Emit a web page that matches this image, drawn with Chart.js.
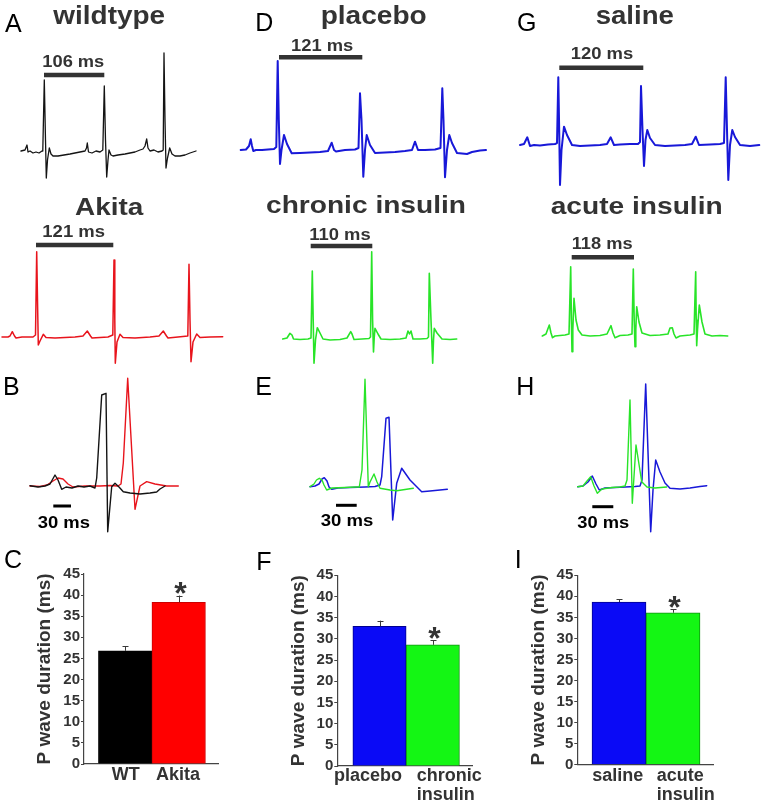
<!DOCTYPE html>
<html>
<head>
<meta charset="utf-8">
<script src="https://cdn.jsdelivr.net/npm/chart.js@4.4.1/dist/chart.umd.min.js"></script>
<style>
html,body{margin:0;padding:0;background:#fff;}
#wrap{position:relative;width:763px;height:806px;overflow:hidden;background:#fff;}
#wrap canvas{position:absolute;}
#labels{position:absolute;left:0;top:0;z-index:5;pointer-events:none;}
#labels text{font-family:'Liberation Sans',Arial,Helvetica,sans-serif;}
.ttl{font-weight:bold;fill:#333;}
.sc{font-weight:bold;fill:#333;font-size:16.5px;}
.sc30{font-weight:bold;fill:#000;font-size:16.5px;}
.let{fill:#000;font-size:25px;}
</style>
</head>
<body>
<div id="wrap">
<svg id="labels" width="763" height="806" xmlns="http://www.w3.org/2000/svg">
  <text class="let" x="5" y="31.7">A</text>
  <text class="let" x="255.3" y="30.7">D</text>
  <text class="let" x="517" y="30.7">G</text>
  <text class="let" x="3" y="395">B</text>
  <text class="let" x="255.3" y="395">E</text>
  <text class="let" x="516.3" y="395">H</text>
  <text class="let" x="4" y="568">C</text>
  <text class="let" x="256.3" y="570">F</text>
  <text class="let" x="514.7" y="568">I</text>

  <text class="ttl" font-size="25" x="109.2" y="23.5" text-anchor="middle" textLength="111.7" lengthAdjust="spacingAndGlyphs">wildtype</text>
  <text class="ttl" font-size="25" x="373.7" y="24" text-anchor="middle" textLength="106" lengthAdjust="spacingAndGlyphs">placebo</text>
  <text class="ttl" font-size="25" x="634.8" y="24" text-anchor="middle" textLength="78.3" lengthAdjust="spacingAndGlyphs">saline</text>
  <text class="ttl" font-size="23.5" x="109.2" y="215" text-anchor="middle" textLength="68.3" lengthAdjust="spacingAndGlyphs">Akita</text>
  <text class="ttl" font-size="23.5" x="366" y="213.3" text-anchor="middle" textLength="200" lengthAdjust="spacingAndGlyphs">chronic insulin</text>
  <text class="ttl" font-size="23.5" x="636.7" y="214.3" text-anchor="middle" textLength="172" lengthAdjust="spacingAndGlyphs">acute insulin</text>

  <text class="sc" x="73.3" y="66.7" text-anchor="middle" textLength="62" lengthAdjust="spacingAndGlyphs">106 ms</text>
  <text class="sc" x="73.7" y="237.3" text-anchor="middle" textLength="62.7" lengthAdjust="spacingAndGlyphs">121 ms</text>
  <text class="sc" x="322.2" y="51" text-anchor="middle" textLength="62.3" lengthAdjust="spacingAndGlyphs">121 ms</text>
  <text class="sc" x="602" y="59.3" text-anchor="middle" textLength="62.6" lengthAdjust="spacingAndGlyphs">120 ms</text>
  <text class="sc" x="340" y="240" text-anchor="middle" textLength="61.4" lengthAdjust="spacingAndGlyphs">110 ms</text>
  <text class="sc" x="602.2" y="249" text-anchor="middle" textLength="61" lengthAdjust="spacingAndGlyphs">118 ms</text>

  <text class="sc30" x="63.8" y="528.3" text-anchor="middle" textLength="52.3" lengthAdjust="spacingAndGlyphs">30 ms</text>
  <text class="sc30" x="347" y="526" text-anchor="middle" textLength="52.6" lengthAdjust="spacingAndGlyphs">30 ms</text>
  <text class="sc30" x="603.3" y="528.3" text-anchor="middle" textLength="52" lengthAdjust="spacingAndGlyphs">30 ms</text>
</svg>
</div>
<script>
const FONT = "'Liberation Sans', Arial, Helvetica, sans-serif";

// ---------- ECG traces: [time (a.u.), amplitude (a.u.)] ----------
const wildtypeTrace = [[21,1],[25,2],[27,7],[28,0],[30,1],[33,-1],[36,0],[39,-1],[42,1],[42.8,2],[44.3,72],[45.5,12],[46.3,-26],[47.5,-8],[49.3,4],[51,-2],[53,-4],[58,-4],[64,-3],[70,-2],[75,-1],[80,0],[85,1],[86.5,4],[87.3,9],[88.5,0],[92,-1],[96,1],[100,0],[102.8,2],[104.3,66],[105.5,12],[106.7,-25],[108,-8],[109,2],[111,-3],[113,-4],[118,-3],[125,-2],[130,-1],[135,0],[140,2],[143,3],[145,6],[146.7,13],[148,4],[150,1],[154,2],[158,0],[162,1],[163.2,2],[164,99],[165,32],[166,-16],[167.5,-6],[169.7,4],[172,-2],[175,-4],[180,-4],[185,-3],[190,-1],[196,1]];
const akitaTrace = [[2,0],[8,0],[10,1],[12.3,5.3],[14.5,1],[16,-1],[22,0],[28,0],[33,0],[35.5,2],[36.7,85.3],[37.5,37],[38.3,-8],[40,-4],[43.3,2.7],[46,-0.5],[55,-1],[65,-0.5],[75,0],[83,1],[87.3,6],[90.5,1],[92,-1],[100,-0.5],[108,0],[112.8,2],[114,77],[114.8,17],[115.3,-26.3],[117,-5],[120,2.7],[123,-0.5],[135,-1],[150,0],[159,1],[163.3,6],[166.5,1],[168,-1],[178,0],[187.8,1],[189,72.7],[190,17],[191,-24.7],[193,-5],[196.7,3],[200,-0.5],[210,0],[222.7,0.3]];
const overlayWT = [[30,1.3],[38,0],[45,1],[50,3],[55,12],[58,7],[61.7,-2.3],[66,0],[72,-1],[78,1],[84,0],[90,1],[95,-1],[96.7,9],[101.7,92],[106,93.7],[107.7,-44.7],[111.7,0.3],[115,3.7],[119,0],[123.3,-4.7],[130,-6],[140,-7],[150,-6],[156.7,-5],[160,-2],[165,1]];
const overlayAkita = [[30,1],[40,0.5],[47,2],[53,6],[58,9],[63,8],[68,3],[73,0],[85,1],[100,1],[110,1.5],[118,1],[121,3],[123.3,24],[127.7,108.7],[135,-22.3],[140,1],[146.7,5.3],[155,3],[166.7,1],[178.3,1]];
const placeboTrace = [[10.7,0],[16,0.5],[19,4],[20.7,10.7],[22,4],[23.3,-1],[26,0],[32,0],[38,0.5],[44,1],[46.3,3],[47.7,89],[48.8,30],[50,-14],[51.5,0],[54,15],[57,6],[61.7,-3.3],[70,-3],[80,-2.5],[90,-2],[98,-1],[101.7,7.3],[104,0],[106,-1.5],[115,0],[125,0.5],[128.5,2],[130,56.7],[131.5,30],[133.3,-26.7],[135,0],[136.7,15],[140,5],[145,-3],[155,-2.5],[165,-2],[175,-1],[182,0],[185,8.3],[188,0],[195,0],[205,0.5],[210.5,2],[212.3,61.7],[213.5,30],[215,-27.3],[217,0],[219.3,15],[222,7],[227,-3],[237,-4],[242,-2],[250,-0.5],[256,0]];
const chronicTrace = [[52.7,0],[57,1],[60,5.7],[62,4],[63.5,0],[70,-0.5],[78,0],[81,1],[82.3,68],[83.2,19],[84,-24.3],[85.5,-1],[87.3,11.3],[90,6],[93,0],[100,-1],[110,-0.5],[117,1],[120.7,7.3],[122,5],[124,-0.5],[132,0],[139,0.5],[140.5,2],[141.7,87.3],[142.6,19],[143.5,-13],[144.2,1],[145,10.7],[148,5],[151,0],[160,-0.5],[170,0],[176,1],[178,8],[179.5,5],[181,8],[183,0],[190,0],[197,0.5],[198.5,2],[199.3,65.7],[201,19],[202.7,-24.3],[203.5,-1],[204.3,10.7],[207,6],[212,0],[220,-0.5],[226.7,0]];
const overlayPlacebo = [[80,0.3],[85,1],[89,3],[92,8],[94.3,9.3],[97,6],[99,0],[101.7,-2.3],[108,-1],[120,-0.5],[135,0],[145,0.5],[150,2],[151.7,10.3],[156,68.7],[159,69.7],[162.7,-33],[166.7,3.7],[171.7,18.7],[180,7],[191.7,-4.7],[200,-4],[210,-3],[217.3,-2.3]];
const overlayChronic = [[80,0.3],[84,3],[86.5,7],[89.3,8.7],[92,7],[94,2],[96.7,-3],[102,-1],[115,-0.5],[125,0],[129.3,0],[132,17],[135,107.7],[138.3,0.3],[140,5],[144,13],[147,5],[150,-1.3],[160,-3],[166.7,-3.7],[175,-2.5],[183.3,-1.3]];
const salineTrace = [[20,0],[24,1],[27.3,7.7],[30,-1],[34,0],[40,-0.5],[48,0.5],[55,1],[57,2],[58.3,67.7],[59.2,15],[60,-40],[61.5,-5],[64,18.3],[67,10],[72,0],[80,-1],[90,-0.5],[100,0],[107,1],[110.7,7.7],[114,0],[120,0.5],[130,1],[138,1],[140,3],[141,59],[142.5,15],[144,-21],[145.5,5],[147.3,15],[150,7],[155,0],[165,-1],[175,-0.5],[185,0],[192,1],[195.7,8.3],[199,0],[210,0.5],[220,1],[224,2],[225.7,67.7],[227,15],[228.3,-35],[230,0],[232.3,15],[235,8],[240,0],[250,-1],[259.3,0]];
const acuteTrace = [[42.3,-1],[46,1],[49.3,10],[51,2],[52.5,-2.7],[55,-1],[60,-0.5],[65,0],[69,1],[70.7,68.3],[71.4,15],[72,-16.7],[72.8,5],[74,36.7],[76,15],[78.3,5],[82,0],[90,-1],[100,-0.5],[107,1],[111,9.3],[113,2],[115,-2.7],[120,-0.5],[128,0],[132,1],[133.3,66],[134.2,15],[135,-11.7],[135.8,5],[136.7,28.3],[139,13],[142,2],[150,-0.5],[160,0],[168,1],[170,7],[172.3,7.3],[174,1],[176,-3],[180,-1],[190,0],[194,1],[195.7,63.3],[196.2,15],[196.7,-10.7],[197.5,5],[199.3,30],[202,13],[205,1],[212,-1],[220,-0.5],[227.7,-1]];
const overlaySaline = [[77.7,0.3],[83,1],[88,5],[92.3,11],[96,3],[99.3,-3],[105,-1],[115,-0.5],[125,0],[135,0.5],[140,1],[142,7],[145.7,103],[150.7,-44.7],[153,-3],[155.7,27],[160,15],[165,4],[170,-1.3],[180,-2],[190,-1],[200,0.5],[206.7,1.3]];
const overlayAcute = [[77.7,0.3],[83,1],[87,6],[90.7,10.3],[94,1],[97.3,-6.3],[102,-2],[112,-0.5],[120,0],[125,1],[127,7],[130,87],[132.3,-16.3],[136,42],[141.7,5.3],[147,0],[155,-1],[166.7,0]];

// ---------- RR-interval and 30 ms scale bars: [time, amplitude] ----------
const wildtypeRR = [[44,77],[104.3,77]];
const akitaRR = [[36,92],[113.3,92]];
const placeboRR = [[49,92.7],[132.3,92.7]];
const chronicRR = [[80.7,93],[142.3,93]];
const salineRR = [[59.3,77.3],[143.3,77.3]];
const acuteRR = [[71.7,77.7],[134,77.7]];
const scaleB = [[53.3,-19],[71,-19]];
const scaleE = [[106,-18.3],[126.7,-18.3]];
const scaleH = [[92.3,-19.7],[113.3,-19.7]];

// ---------- P wave duration bar charts ----------
const yTicks = [0,5,10,15,20,25,30,35,40,45];
const catsC = ['WT','Akita'];
const valsC = [26.8,38.3];
const errsC = [1.1,1.6];
const catsF = ['placebo',['chronic','insulin']];
const valsF = [32.95,28.6];
const errsF = [1.35,1.1];
const catsI = ['saline',['acute','insulin']];
const valsI = [38.65,36.1];
const errsI = [0.65,0.8];

const BLACKL = '#141414', RED = '#e8141c', BLUE = '#1818d8', GREEN = '#28e428', SCALEBAR = '#333333';

const wrap = document.getElementById('wrap');
const svg = document.getElementById('labels');
function mkCanvas(p){
  const cv = document.createElement('canvas');
  cv.width = p.w; cv.height = p.h;
  cv.style.left = p.left + 'px'; cv.style.top = p.top + 'px';
  cv.style.width = p.w + 'px'; cv.style.height = p.h + 'px';
  wrap.insertBefore(cv, svg);
  return cv;
}

function traceChart(p, sets){
  const cv = mkCanvas(p);
  new Chart(cv, {
    type: 'scatter',
    data: { datasets: sets.map(s => ({
      data: s.data, showLine: true, borderColor: s.color, borderWidth: s.width,
      pointRadius: 0, pointHoverRadius: 0, tension: 0, fill: false, clip: false,
      borderJoinStyle: 'round', borderCapStyle: s.cap || 'round'
    })) },
    options: {
      responsive: false, animation: false, events: [],
      layout: { padding: 0 },
      plugins: { legend: { display: false }, tooltip: { enabled: false } },
      scales: {
        x: { type: 'linear', display: false, offset: false, min: 0, max: p.w },
        y: { type: 'linear', display: false, offset: false, min: p.base - p.top - p.h, max: p.base - p.top }
      }
    }
  });
}

traceChart({left:0, top:45, w:240, h:145, base:152}, [
  {data: wildtypeTrace, color: BLACKL, width: 1.3},
  {data: wildtypeRR, color: SCALEBAR, width: 4.5, cap: 'butt'}]);
traceChart({left:0, top:240, w:240, h:135, base:337}, [
  {data: akitaTrace, color: RED, width: 1.5},
  {data: akitaRR, color: SCALEBAR, width: 4.5, cap: 'butt'}]);
traceChart({left:0, top:370, w:240, h:175, base:487}, [
  {data: overlayWT, color: BLACKL, width: 1.4},
  {data: overlayAkita, color: RED, width: 1.4},
  {data: scaleB, color: '#000', width: 3, cap: 'butt'}]);
traceChart({left:230, top:40, w:270, h:150, base:150}, [
  {data: placeboTrace, color: BLUE, width: 2},
  {data: placeboRR, color: SCALEBAR, width: 4.5, cap: 'butt'}]);
traceChart({left:230, top:235, w:270, h:135, base:339}, [
  {data: chronicTrace, color: GREEN, width: 1.6},
  {data: chronicRR, color: SCALEBAR, width: 4.5, cap: 'butt'}]);
traceChart({left:230, top:370, w:270, h:175, base:487}, [
  {data: overlayChronic, color: GREEN, width: 1.4},
  {data: overlayPlacebo, color: BLUE, width: 1.5},
  {data: scaleE, color: '#000', width: 3, cap: 'butt'}]);
traceChart({left:500, top:40, w:263, h:155, base:145}, [
  {data: salineTrace, color: BLUE, width: 2},
  {data: salineRR, color: SCALEBAR, width: 4.5, cap: 'butt'}]);
traceChart({left:500, top:235, w:263, h:135, base:335}, [
  {data: acuteTrace, color: GREEN, width: 1.6},
  {data: acuteRR, color: SCALEBAR, width: 4.5, cap: 'butt'}]);
traceChart({left:500, top:370, w:263, h:175, base:487}, [
  {data: overlayAcute, color: GREEN, width: 1.4},
  {data: overlaySaline, color: BLUE, width: 1.5},
  {data: scaleH, color: '#000', width: 3, cap: 'butt'}]);

const errPlugin = {
  id: 'errs',
  afterDatasetsDraw(chart, args, opts) {
    const ctx = chart.ctx, xs = chart.scales.x, ys = chart.scales.y;
    const ds = chart.data.datasets[0];
    ctx.save();
    ctx.strokeStyle = '#3a3a3a'; ctx.lineWidth = 1;
    let starX = 0, starY = 0;
    opts.errs.forEach((e, i) => {
      const pt = ds.data[i];
      const px = Math.round(xs.getPixelForValue(pt.x)) + 0.5;
      const y0 = ys.getPixelForValue(pt.y), y1 = ys.getPixelForValue(pt.y + e);
      ctx.beginPath();
      ctx.moveTo(px, y0); ctx.lineTo(px, y1);
      ctx.moveTo(px - 3, Math.round(y1) + 0.5); ctx.lineTo(px + 3, Math.round(y1) + 0.5);
      ctx.stroke();
      if (i === opts.star) { starX = px + 1; starY = y1 - 9; }
    });
    ctx.fillStyle = '#333';
    ctx.font = 'bold 32px ' + FONT;
    ctx.textAlign = 'center'; ctx.textBaseline = 'alphabetic';
    ctx.fillText('*', starX, starY + 17.6);
    ctx.restore();
  }
};

function barChart(p, cats, vals, errs, colors, borders, labelPos){
  const cv = mkCanvas(p);
  new Chart(cv, {
    type: 'bar',
    data: { datasets: [{
      data: vals.map((v, i) => ({x: i + 1, y: v})),
      backgroundColor: colors, borderColor: borders, borderWidth: 1,
      barPercentage: 1, categoryPercentage: 1, xAxisID: 'x', yAxisID: 'y'
    }] },
    options: {
      responsive: false, animation: false, events: [],
      layout: { padding: { left: 0, top: p.padTop, right: p.padRight, bottom: 0 } },
      plugins: { legend: { display: false }, tooltip: { enabled: false }, errs: { errs: errs, star: 1 } },
      scales: {
        x: { type: 'linear', position: 'bottom', offset: false, min: p.xmin, max: p.xmax,
          afterBuildTicks: s => { s.ticks = vals.map((v, i) => ({value: i + 1})); },
          ticks: { display: false }, grid: { display: false, drawTicks: false, offset: false },
          border: { display: true, color: '#444', width: 1.2 },
          afterFit: s => { s.height = 0; } },
        xl: { type: 'linear', position: 'bottom', offset: false, min: p.xmin, max: p.xmax,
          afterBuildTicks: s => { s.ticks = labelPos.map(v => ({value: v})); },
          ticks: { autoSkip: false, maxRotation: 0, minRotation: 0, align: 'start', padding: p.labelPad,
            color: '#333', font: { family: FONT, size: 18, weight: 'bold', lineHeight: 1.055 },
            callback: (v, i) => cats[i] },
          grid: { display: false, drawTicks: false, offset: false }, border: { display: false },
          afterFit: s => { s.height = p.xAxisH; } },
        y: { type: 'linear', position: 'left', min: 0, max: 45,
          afterBuildTicks: s => { s.ticks = yTicks.map(v => ({value: v})); },
          ticks: { color: '#333', padding: 1, font: { family: FONT, size: 15, weight: 'bold' }, callback: v => String(v) },
          grid: { drawOnChartArea: false, drawTicks: true, tickLength: 3, color: '#444' },
          border: { display: true, color: '#444', width: 1.2 },
          title: { display: true, text: 'P wave duration (ms)', color: '#333',
            font: { family: FONT, size: 19, weight: 'bold' }, padding: { top: p.titlePad, bottom: 0 } },
          afterFit: s => { s.width = p.yAxisW; } }
      }
    },
    plugins: [errPlugin]
  });
}

barChart({left:0, top:560, w:230, h:246, yAxisW:84, padTop:14, padRight:12, xAxisH:42, titlePad:33.7,
  xmin:0.23, xmax:2.735, labelPad:2}, catsC, valsC, errsC, ['#000000','#ff0000'], ['#000000','#cc0000'], [0.748, 1.576]);
barChart({left:250, top:560, w:250, h:246, yAxisW:87.3, padTop:15.3, padRight:27.3, xAxisH:40, titlePad:37.8,
  xmin:0.208, xmax:2.749, labelPad:1}, catsF, valsF, errsF, ['#0a0af6','#14f614'], ['#000090','#109010'], [0.146, 1.70]);
barChart({left:500, top:560, w:263, h:246, yAxisW:77.3, padTop:15.3, padRight:49.7, xAxisH:41.3, titlePad:27.8,
  xmin:0.228, xmax:2.746, labelPad:2}, catsI, valsI, errsI, ['#0a0af6','#14f614'], ['#000090','#109010'], [0.506, 1.698]);
</script>
</body>
</html>
